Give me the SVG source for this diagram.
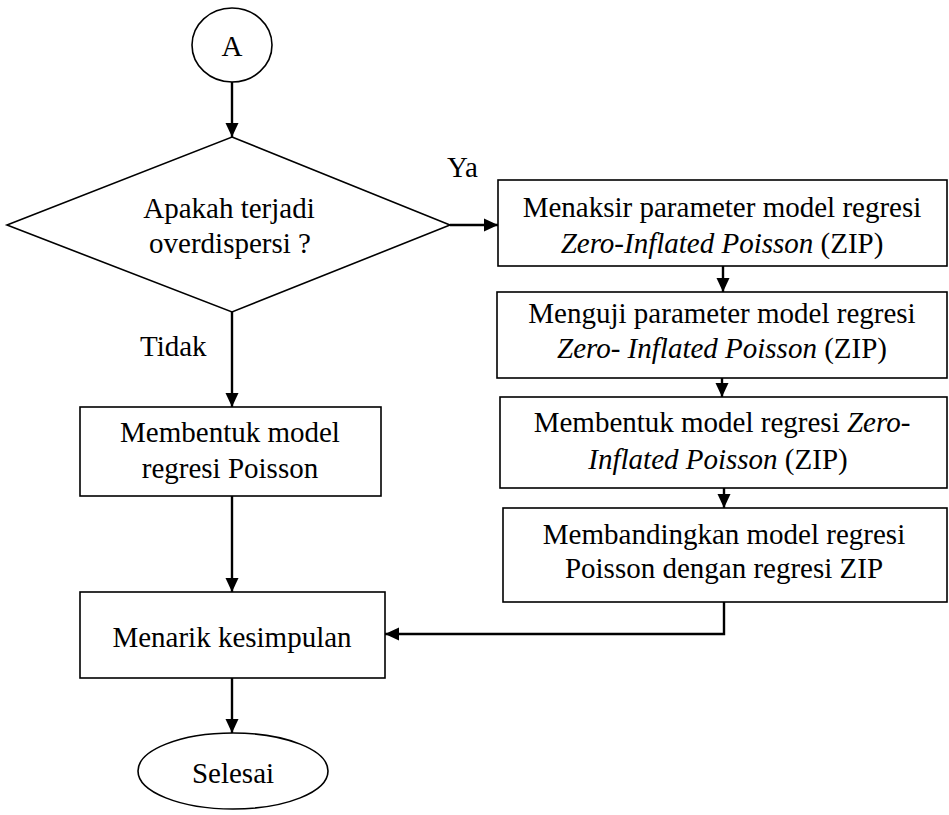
<svg xmlns="http://www.w3.org/2000/svg" width="949" height="815" viewBox="0 0 949 815">
  <style>
    .shape { fill: #ffffff; stroke: #000000; stroke-width: 1.6; }
    .conn { fill: none; stroke: #000000; stroke-width: 2.4; }
    .t { font-family: "Liberation Serif", "Times New Roman", Times, serif; font-size: 29px; fill: #000000; }
    .c { text-anchor: middle; }
    .i { font-style: italic; }
  </style>
  <defs>
    <marker id="arrow" markerUnits="userSpaceOnUse" markerWidth="14" markerHeight="14" viewBox="0 0 14 14" refX="14" refY="7" orient="auto">
      <path d="M0,0.5 L14,7 L0,13.5 Z" fill="#000000"/>
    </marker>
  </defs>
  <rect width="949" height="815" fill="#ffffff"/>

  <g id="connectors">
    <line class="conn" x1="232" y1="82" x2="232" y2="137" marker-end="url(#arrow)"/>
    <line class="conn" x1="450" y1="225" x2="498" y2="225" marker-end="url(#arrow)"/>
    <line class="conn" x1="723" y1="266" x2="723" y2="292" marker-end="url(#arrow)"/>
    <line class="conn" x1="722" y1="378" x2="722" y2="397" marker-end="url(#arrow)"/>
    <line class="conn" x1="724" y1="488" x2="724" y2="508" marker-end="url(#arrow)"/>
    <line class="conn" x1="232" y1="312" x2="232" y2="407" marker-end="url(#arrow)"/>
    <line class="conn" x1="232" y1="496" x2="232" y2="592" marker-end="url(#arrow)"/>
    <path class="conn" d="M724,602 V634 H385" marker-end="url(#arrow)"/>
    <line class="conn" x1="232" y1="678" x2="232" y2="733" marker-end="url(#arrow)"/>
  </g>

  <g id="start">
    <ellipse class="shape" cx="232" cy="45" rx="40" ry="37"/>
    <text class="t c" font-family="Liberation Serif, serif" x="232" y="56">A</text>
  </g>

  <g id="decision">
    <polygon class="shape" points="232,137 450,225 232,312 7,225"/>
    <text class="t c" font-family="Liberation Serif, serif" x="229" y="218">Apakah terjadi</text>
    <text class="t c" font-family="Liberation Serif, serif" x="230" y="253">overdispersi ?</text>
  </g>

  <g id="label-ya">
    <text class="t" font-family="Liberation Serif, serif" x="447" y="177">Ya</text>
  </g>
  <g id="label-tidak">
    <text class="t" font-family="Liberation Serif, serif" x="140" y="356">Tidak</text>
  </g>

  <g id="zip-estimate">
    <rect class="shape" x="498" y="180" width="449" height="86"/>
    <text class="t c" font-family="Liberation Serif, serif" x="722" y="217">Menaksir parameter model regresi</text>
    <text class="t c" font-family="Liberation Serif, serif" x="722" y="253"><tspan class="i">Zero-Inflated Poisson</tspan> (ZIP)</text>
  </g>

  <g id="zip-test">
    <rect class="shape" x="497" y="292" width="450" height="86"/>
    <text class="t c" font-family="Liberation Serif, serif" x="722" y="323">Menguji parameter model regresi</text>
    <text class="t c" font-family="Liberation Serif, serif" x="722" y="358"><tspan class="i">Zero- Inflated Poisson</tspan> (ZIP)</text>
  </g>

  <g id="zip-model">
    <rect class="shape" x="500" y="397" width="447" height="91"/>
    <text class="t c" font-family="Liberation Serif, serif" x="722" y="432">Membentuk model regresi <tspan class="i">Zero-</tspan></text>
    <text class="t c" font-family="Liberation Serif, serif" x="718" y="469"><tspan class="i">Inflated Poisson</tspan> (ZIP)</text>
  </g>

  <g id="compare">
    <rect class="shape" x="503" y="508" width="444" height="94"/>
    <text class="t c" font-family="Liberation Serif, serif" x="724" y="544">Membandingkan model regresi</text>
    <text class="t c" font-family="Liberation Serif, serif" x="724" y="578">Poisson dengan regresi ZIP</text>
  </g>

  <g id="poisson-model">
    <rect class="shape" x="80" y="407" width="301" height="89"/>
    <text class="t c" font-family="Liberation Serif, serif" x="230" y="442">Membentuk model</text>
    <text class="t c" font-family="Liberation Serif, serif" x="230" y="478">regresi Poisson</text>
  </g>

  <g id="conclusion">
    <rect class="shape" x="80" y="592" width="305" height="86"/>
    <text class="t c" font-family="Liberation Serif, serif" x="232" y="647">Menarik kesimpulan</text>
  </g>

  <g id="end">
    <ellipse class="shape" cx="233" cy="771" rx="95" ry="38"/>
    <text class="t c" font-family="Liberation Serif, serif" x="233" y="783">Selesai</text>
  </g>
</svg>
